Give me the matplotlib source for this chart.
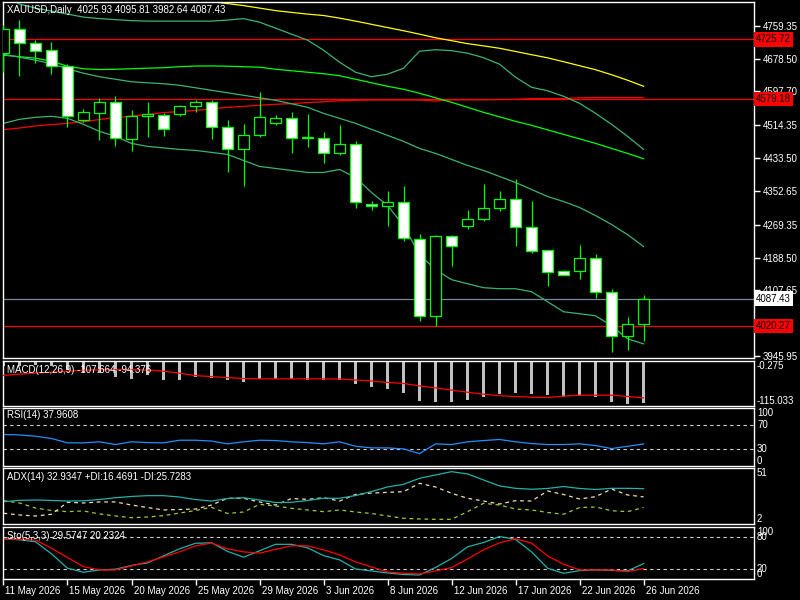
import numpy as np
import matplotlib.pyplot as plt
from matplotlib import transforms

plt.rcParams['font.family'] = ['Liberation Sans', 'DejaVu Sans']
plt.rcParams['font.size'] = 7

# daily XAUUSD candles, 11 May - 26 Jun 2026
opens = [4691.9, 4750.4, 4715.8, 4699.3, 4661.5, 4528.2, 4544.5, 4572.6, 4481.3, 4538.1,
         4540.5, 4543.0, 4561.8, 4572.6, 4510.9, 4456.6, 4491.2, 4520.8, 4533.1, 4483.7,
         4483.7, 4446.7, 4468.9, 4320.8, 4315.9, 4325.7, 4234.4, 4044.3, 4241.8, 4265.5,
         4282.8, 4309.9, 4333.1, 4264.0, 4207.2, 4155.4, 4155.4, 4187.5, 4103.5, 3994.9, 4025.93]
highs = [4761.0, 4773.4, 4724.0, 4719.0, 4664.7, 4554.4, 4582.5, 4587.4, 4551.2, 4570.9,
         4543.8, 4563.5, 4577.6, 4575.9, 4526.5, 4516.6, 4595.6, 4538.8, 4546.2, 4541.3,
         4496.8, 4514.1, 4474.6, 4328.9, 4353.6, 4363.5, 4246.7, 4245.0, 4245.0, 4306.7,
         4368.5, 4353.6, 4380.8, 4328.9, 4208.0, 4158.6, 4220.3, 4197.4, 4111.7, 4042.6, 4095.81]
lows = [4645.0, 4635.1, 4667.9, 4640.0, 4509.9, 4522.3, 4477.1, 4463.0, 4450.7, 4485.2,
        4486.9, 4536.3, 4546.9, 4479.6, 4398.8, 4363.5, 4485.2, 4515.8, 4445.7, 4460.5,
        4421.0, 4441.8, 4309.9, 4306.7, 4265.5, 4228.5, 4032.7, 4020.3, 4166.7, 4258.1,
        4277.8, 4302.5, 4216.1, 4198.8, 4117.4, 4144.3, 4134.6, 4087.7, 3956.9, 3961.8, 3982.64]
closes = [4751.2, 4715.8, 4697.6, 4661.5, 4538.1, 4546.2, 4572.6, 4483.7, 4538.1, 4543.0,
          4506.0, 4562.8, 4572.6, 4510.9, 4456.6, 4491.2, 4535.6, 4533.1, 4483.7, 4484.5,
          4446.7, 4468.9, 4325.7, 4315.9, 4325.7, 4236.9, 4044.3, 4241.8, 4217.1, 4283.8,
          4310.9, 4333.1, 4264.0, 4204.7, 4152.9, 4145.5, 4187.5, 4102.5, 3994.9, 4024.5, 4087.43]

# moving averages (NaN = not drawn)
ma_yellow = [np.nan] * 10 + [4835.1, 4830.2, 4825.2, 4819.0, 4814.1, 4809.2, 4803.0, 4796.8, 4792.4, 4788.2,
                             4784.7, 4778.3, 4770.9, 4763.0, 4755.1, 4747.2, 4738.8, 4729.9, 4722.8, 4715.4,
                             4709.9, 4704.0, 4696.1, 4688.2, 4680.5, 4670.9, 4661.0, 4651.2, 4638.8, 4625.3, 4610.4]
ma_red = [4503.5, 4507.5, 4512.7, 4515.9, 4519.1, 4522.8, 4528.5, 4533.1, 4537.1, 4540.8,
          4545.5, 4548.2, 4550.7, 4554.9, 4558.6, 4561.0, 4563.5, 4566.0, 4567.7, 4570.2,
          4572.2, 4574.6, 4575.9, 4576.6, 4576.6, 4576.6, 4576.6, 4574.1, 4577.1, 4577.1,
          4577.1, 4577.6, 4578.3, 4580.0, 4580.0, 4580.0, 4582.0, 4582.5, 4582.5, 4582.5, 4582.5]
ma_lime = [4686.9, 4683.3, 4679.6, 4672.1, 4659.8, 4653.6, 4651.6, 4652.4, 4653.6, 4654.9,
           4656.1, 4658.6, 4660.3, 4660.5, 4659.8, 4658.6, 4657.3, 4652.4, 4648.7, 4645.0,
           4641.3, 4636.4, 4627.7, 4619.0, 4610.4, 4603.0, 4593.2, 4582.0, 4570.9, 4558.6,
           4546.2, 4535.1, 4524.0, 4514.2, 4503.0, 4491.9, 4480.8, 4469.7, 4457.3, 4445.0, 4431.9]
bb_upper = [4837.6, 4812.9, 4803.0, 4795.6, 4788.2, 4780.8, 4777.1, 4774.6, 4772.1, 4770.9,
            4770.9, 4770.9, 4770.9, 4770.9, 4773.4, 4777.1, 4768.4, 4753.6, 4738.8, 4724.0,
            4699.3, 4669.7, 4645.0, 4633.9, 4640.1, 4654.9, 4696.8, 4700.5, 4698.1, 4691.9,
            4680.8, 4664.7, 4632.6, 4607.9, 4599.3, 4585.7, 4568.4, 4543.7, 4516.6, 4487.0, 4454.9]
bb_mid = [4689.4, 4682.0, 4674.6, 4666.0, 4653.6, 4642.5, 4633.9, 4627.7, 4621.5, 4619.0,
          4616.6, 4612.9, 4606.7, 4600.5, 4594.4, 4588.2, 4582.0, 4575.9, 4567.2, 4558.6,
          4543.7, 4531.4, 4519.1, 4504.2, 4489.4, 4474.6, 4457.3, 4445.0, 4430.2, 4415.4,
          4403.0, 4388.2, 4373.4, 4356.1, 4338.8, 4326.5, 4311.7, 4291.9, 4269.7, 4245.0, 4215.4]
bb_lower = [4519.1, 4529.0, 4533.9, 4536.4, 4531.4, 4516.6, 4499.3, 4487.0, 4469.7, 4462.3,
            4458.6, 4454.9, 4452.4, 4447.5, 4442.5, 4427.7, 4412.9, 4408.0, 4403.0, 4398.1,
            4398.1, 4405.5, 4385.7, 4348.7, 4316.6, 4267.2, 4195.6, 4158.6, 4133.9, 4124.0,
            4114.2, 4111.7, 4111.7, 4104.3, 4079.6, 4054.9, 4050.0, 4045.0, 4020.3, 3988.2, 3975.9]

red_levels = [4725.72, 4579.18, 4020.27]
bid = 4087.43
price_ticks = [4759.35, 4678.50, 4597.70, 4514.35, 4433.50, 4352.65, 4269.35, 4188.50, 4107.65, 3945.95]

macd_hist = [-12.5, -12.5, -10.0, -12.5, -22.5, -28.0, -31.0, -42.0, -45.0, -36.0,
             -50.0, -47.5, -42.0, -43.0, -50.0, -53.0, -45.0, -45.0, -45.0, -50.0,
             -50.0, -50.0, -60.0, -67.0, -72.5, -82.5, -102.0, -104.0, -104.0, -99.0,
             -92.0, -85.0, -82.5, -85.0, -87.5, -91.0, -89.0, -92.0, -104.0, -110.0, -107.664]
macd_signal = [-36.8, -33.8, -31.3, -28.8, -26.3, -23.8, -22.5, -22.5, -22.5, -23.3,
               -26.3, -31.3, -37.5, -40.0, -42.5, -45.0, -45.8, -45.8, -45.8, -45.8,
               -45.8, -46.3, -48.8, -51.3, -55.0, -57.5, -63.8, -68.8, -74.3, -80.0,
               -85.0, -88.8, -90.8, -92.5, -93.3, -90.0, -87.5, -87.5, -87.5, -90.8, -94.376]

rsi = [54.3, 53.5, 51.4, 47.4, 39.9, 39.9, 41.7, 37.0, 41.7, 40.4,
       39.9, 44.4, 44.4, 43.0, 38.2, 41.7, 44.4, 43.9, 41.7, 40.4,
       38.2, 41.7, 34.0, 31.2, 31.2, 29.5, 21.3, 38.2, 37.0, 41.7,
       43.9, 45.7, 41.7, 38.7, 37.0, 37.0, 38.2, 35.2, 30.0, 34.0, 37.9608]

adx = [21.5, 22.7, 23.0, 22.6, 22.1, 22.3, 23.4, 25.0, 26.1, 26.8,
       26.8, 25.6, 23.4, 22.1, 24.3, 25.0, 23.0, 20.8, 21.0, 22.6,
       24.5, 24.5, 26.9, 30.4, 34.4, 36.7, 42.0, 44.9, 47.8, 45.8,
       40.5, 35.3, 33.2, 32.4, 33.1, 34.8, 33.1, 32.2, 33.2, 33.2, 32.9347]
plus_di = [22.4, 20.4, 16.0, 13.8, 12.8, 13.4, 10.8, 9.0, 7.5, 8.1,
           9.3, 11.6, 13.8, 16.6, 11.2, 12.5, 19.2, 17.8, 15.7, 14.3,
           12.8, 14.3, 12.5, 11.2, 9.0, 7.0, 6.4, 6.1, 6.1, 12.8,
           20.1, 18.6, 15.1, 14.3, 12.1, 10.5, 16.4, 16.9, 13.6, 12.8, 16.4691]
minus_di = [11.4, 9.9, 9.0, 10.5, 21.0, 20.4, 21.3, 21.3, 18.6, 16.4,
            14.3, 14.7, 15.1, 18.6, 24.5, 24.5, 21.3, 18.6, 24.3, 23.6,
            25.0, 22.1, 27.8, 29.1, 29.7, 30.3, 37.6, 34.4, 28.9, 24.5,
            22.1, 19.5, 22.4, 22.1, 30.9, 27.8, 23.9, 25.9, 32.6, 27.4, 25.7283]

sto_k = [77.4, 75.4, 71.6, 48.4, 20.7, 13.0, 17.4, 18.8, 26.1, 31.0,
         44.5, 58.0, 68.7, 69.6, 53.2, 42.0, 54.2, 66.7, 66.7, 60.0,
         45.0, 36.8, 19.3, 15.5, 11.6, 8.7, 7.7, 22.2, 39.3, 61.9,
         70.2, 81.8, 76.0, 52.2, 20.7, 11.0, 16.1, 17.4, 16.4, 15.5, 29.5747]
sto_d = [77.4, 76.4, 74.9, 59.2, 41.2, 23.8, 17.4, 17.4, 25.1, 32.9,
         42.6, 52.2, 63.8, 69.1, 58.0, 52.2, 49.7, 57.1, 63.8, 63.8,
         56.1, 46.4, 32.9, 23.2, 13.5, 11.0, 9.7, 15.5, 21.9, 38.7,
         56.1, 69.6, 77.4, 69.1, 44.5, 28.4, 17.4, 17.4, 17.4, 14.1, 20.2324]

date_pos = [0, 4, 8, 12, 16, 20, 24, 28, 32, 36, 40]
date_labels = ['11 May 2026', '15 May 2026', '20 May 2026', '25 May 2026', '29 May 2026', '3 Jun 2026',
               '8 Jun 2026', '12 Jun 2026', '17 Jun 2026', '22 Jun 2026', '26 Jun 2026']

x = np.arange(len(closes))
SEA = '#3CB371'
LSG = '#20B2AA'

fig = plt.figure(figsize=(8, 6), dpi=100, facecolor='black')


def panel(top, bottom):
    ax = fig.add_axes([3 / 800, 1 - bottom / 600, 751 / 800, (bottom - top) / 600])
    ax.set_facecolor('black')
    for s in ax.spines.values():
        s.set_color('white')
        s.set_linewidth(1)
    ax.set_xlim(-0.03, 46.9)
    ax.set_xticks([])
    ax.yaxis.tick_right()
    ax.tick_params(axis='y', colors='white', length=4, width=1, pad=2, labelsize=7)
    return ax


def title(ax, text, dy=-4):
    ax.annotate(text, xy=(0, 1), xycoords='axes fraction', xytext=(4, dy),
                textcoords='offset pixels', va='top', ha='left', color='white', zorder=6)


def side_label(ax, val, text, va):
    ax.text(1.004, val, text, transform=ax.get_yaxis_transform(), va=va, ha='left',
            color='white', clip_on=False)


def level(ax, val):
    ax.axhline(val, color='#D0D0D0', lw=0.8, ls=(0, (3, 3)))


# main price panel
ax = panel(2, 358)
ax.set_ylim(3941, 4818)
ax.set_yticks(price_ticks)
ax.set_yticklabels([f'{v:.2f}' for v in price_ticks])

for lv in red_levels:
    ax.axhline(lv, color='red', lw=0.9, zorder=1)
    ax.text(1.003, lv, f'{lv:.2f}', transform=ax.get_yaxis_transform(), va='center', ha='left',
            color='black', clip_on=False, zorder=6,
            bbox=dict(facecolor='red', edgecolor='none', pad=1.6))
ax.axhline(bid, color='#778899', lw=0.9, zorder=1)
ax.text(1.003, bid, f'{bid:.2f}', transform=ax.get_yaxis_transform(), va='center', ha='left',
        color='black', clip_on=False, zorder=6,
        bbox=dict(facecolor='white', edgecolor='none', pad=1.6))

ax.plot(x, ma_yellow, color='yellow', lw=0.9, zorder=2)
ax.plot(x, ma_red, color='red', lw=0.9, zorder=2)
ax.plot(x, ma_lime, color='#00FF00', lw=0.9, zorder=2)
for band in (bb_upper, bb_mid, bb_lower):
    ax.plot(x, band, color=SEA, lw=0.9, zorder=2)

o = np.array(opens)
c = np.array(closes)
ax.vlines(x, lows, highs, color='#00FF00', lw=0.9, zorder=3)
body_col = ['black' if cc >= oo else 'white' for oo, cc in zip(o, c)]
ax.bar(x, c - o, bottom=o, width=0.68, color=body_col, edgecolor='#00FF00', linewidth=0.9, zorder=4)
title(ax, 'XAUUSD,Daily  4025.93 4095.81 3982.64 4087.43', dy=-3)

# MACD
ax = panel(361, 406)
ax.set_ylim(-115.033, -0.275)
ax.set_yticks([])
ax.bar(x, macd_hist, width=0.17, color='#C0C0C0', zorder=2)
ax.plot(x, macd_signal, color='red', lw=0.9, zorder=3)
title(ax, 'MACD(12,26,9) -107.664 -94.376')
side_label(ax, -0.275, '-0.275', 'top')
side_label(ax, -115.033, '-115.033', 'bottom')

# RSI
ax = panel(408, 466)
ax.set_ylim(0, 100)
ax.set_yticks([])
level(ax, 70)
level(ax, 30)
ax.plot(x, rsi, color='#1E90FF', lw=0.9)
title(ax, 'RSI(14) 37.9608', dy=-2)
side_label(ax, 100, '100', 'top')
side_label(ax, 70, '70', 'center')
side_label(ax, 30, '30', 'center')
side_label(ax, 0, '0', 'bottom')

# ADX
ax = panel(468, 524)
ax.set_ylim(2, 51)
ax.set_yticks([])
ax.plot(x, plus_di, color='#9ACD32', lw=0.9, ls=(0, (3, 3)))
ax.plot(x, minus_di, color='#F5DEB3', lw=0.9, ls=(0, (3, 3)))
ax.plot(x, adx, color=LSG, lw=0.9)
title(ax, 'ADX(14) 32.9347 +DI:16.4691 -DI:25.7283')
side_label(ax, 51, '51', 'top')
side_label(ax, 2, '2', 'bottom')

# Stochastic
ax = panel(527, 579)
ax.set_ylim(0, 100)
ax.set_yticks([])
level(ax, 80)
level(ax, 20)
ax.plot(x, sto_k, color=LSG, lw=0.9)
ax.plot(x, sto_d, color='red', lw=0.9)
title(ax, 'Sto(5,3,3) 29.5747 20.2324')
side_label(ax, 100, '100', 'top')
side_label(ax, 80, '80', 'center')
side_label(ax, 20, '20', 'center')
side_label(ax, 0, '0', 'bottom')

ax.set_xticks(date_pos)
ax.set_xticklabels(date_labels)
ax.tick_params(axis='x', colors='white', length=4, width=1, pad=1, labelsize=7)
shift = transforms.ScaledTranslation(2 / 100, 0, fig.dpi_scale_trans)
for lab in ax.get_xticklabels():
    lab.set_horizontalalignment('left')
    lab.set_transform(lab.get_transform() + shift)

fig.savefig('out.png', dpi=100, facecolor='black')
